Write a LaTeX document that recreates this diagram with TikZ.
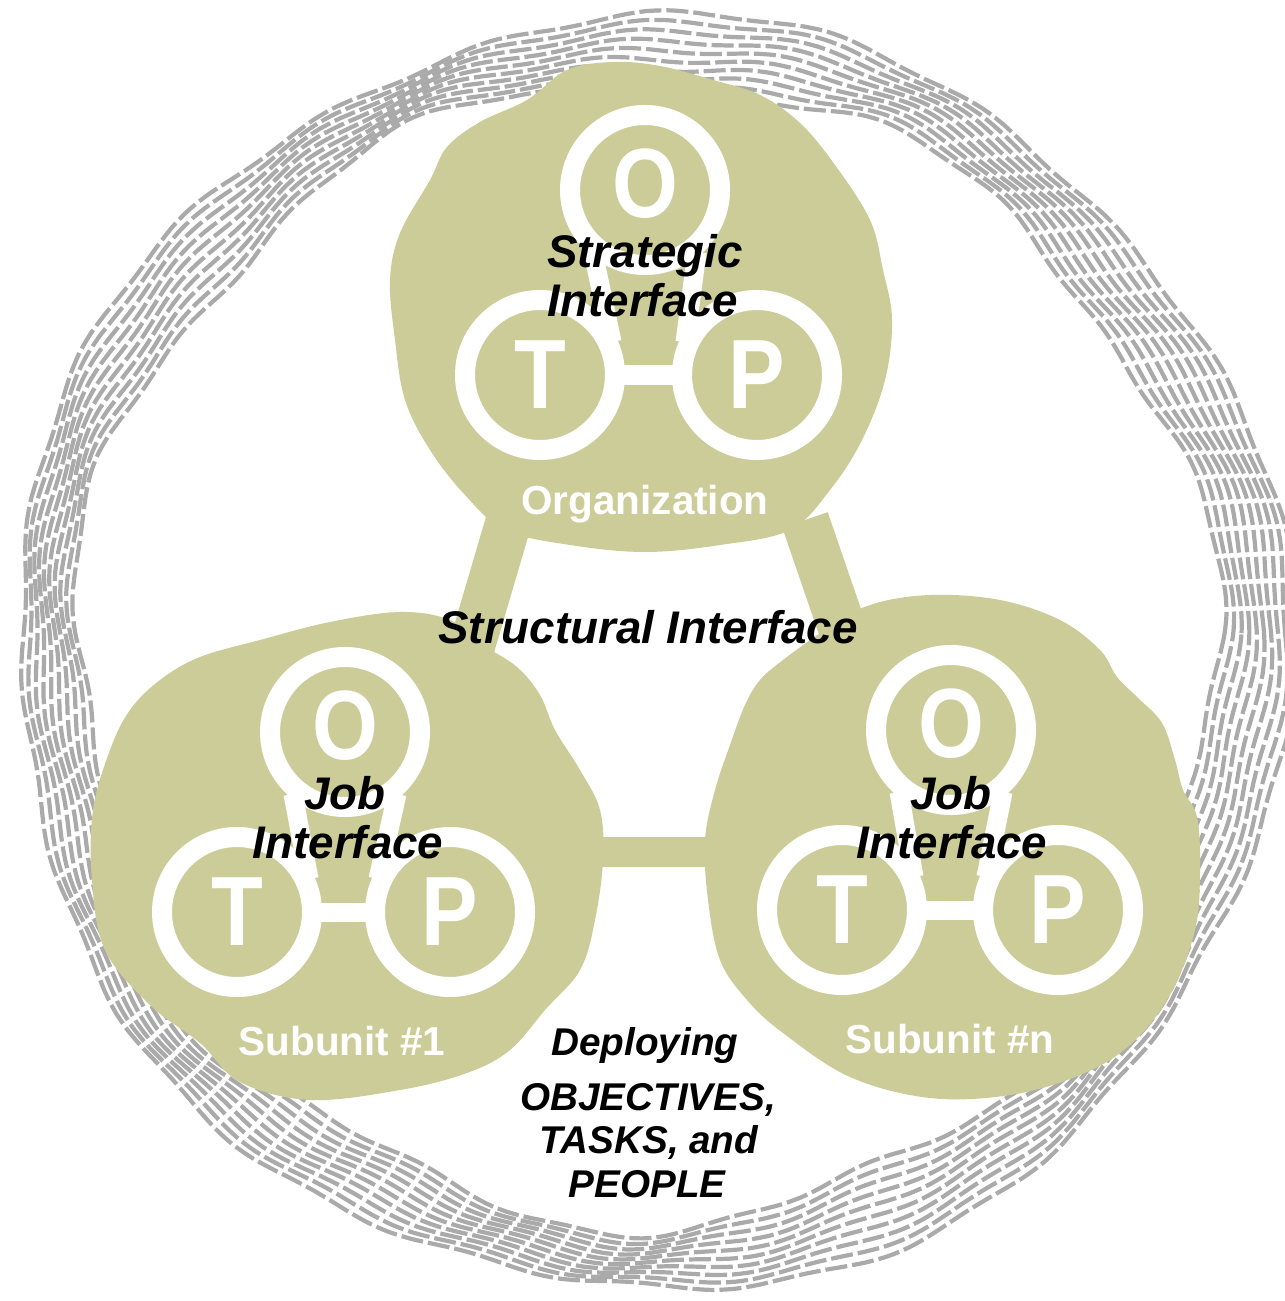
\documentclass[tikz,border=0pt]{standalone}
\usepackage{fontspec}
\newfontfamily\sansb{Liberation Sans}
\definecolor{blobcol}{RGB}{204,204,153}
\definecolor{ringgray}{RGB}{170,170,170}
\tikzset{
  ringline/.style={draw=ringgray, line width=0.042cm, dash pattern=on 0.22cm off 0.05cm},
  blob/.style={fill=blobcol, draw=none},
  band/.style={draw=blobcol},
  ringc/.style={draw=white, line width=0.2cm},
  letter/.style={inner sep=0pt, text=white, font=\sansb\bfseries\fontsize{28}{28}\selectfont},
  link/.style={draw=white, line width=0.19cm},
  lbl/.style={anchor=base, inner sep=0pt, text=black, font=\sansb\bfseries\itshape\fontsize{13}{15}\selectfont},
  dep/.style={anchor=base, inner sep=0pt, text=black, font=\sansb\bfseries\itshape\fontsize{11}{13}\selectfont},
  unit/.style={anchor=base, inner sep=0pt, text=white, font=\sansb\bfseries\fontsize{11.5}{13}\selectfont},
}
\newcommand{\lt}[1]{\scalebox{0.86}[1]{#1}}
\usetikzlibrary{calc}
\begin{document}
\begin{tikzpicture}[x=0.01cm,y=-0.01cm,
  declare function={rr(\a,\s)=570+12*sin(7*\a+20)+\s*(66+8*sin(5*\a+60)-12*sin(7*\a+20)+6*cos(\a))+3*sin(23*\a+200*\s);}]
\useasboundingbox (0,0) rectangle (1284,1301);
\fill[white] (0,0) rectangle (1284,1301);

% outer wavy hatched ring
\foreach \s in {0,0.111,0.222,0.333,0.444,0.556,0.667,0.778,0.889,1}
  \draw[ringline] plot[smooth cycle, domain=0:358, samples=180]
    ({646+rr(\x,\s)*cos(\x)},{654-rr(\x,\s)*sin(\x)});

% bands between blobs
\draw[band, line width=0.46cm] (512,510) -- (462,680);
\draw[band, line width=0.48cm] (805,520) -- (860,680);
\draw[band, line width=0.30cm] (580,852) -- (720,852);

% top blob
\fill[blob] plot[smooth cycle, tension=0.6] coordinates {
 (567,70) (613,62) (660,66) (713,80) (760,95) (800,123) (835,165) (870,220) (883,270)
 (892,320) (885,380) (862,440) (830,490) (790,530) (720,545) (645,552) (570,545)
 (505,530) (465,495) (430,450) (405,400) (395,340) (390,280) (400,233) (430,180)
 (447,147) (480,122) (527,100)};
% left blob
\fill[blob] plot[smooth cycle, tension=0.6] coordinates {
 (160,680) (200,657) (260,640) (330,622) (400,612) (450,620) (483,645) (517,667)
 (540,695) (555,730) (580,770) (600,810) (603,860) (595,920) (580,970) (545,1010)
 (510,1050) (467,1073) (400,1090) (310,1100) (240,1082) (200,1043) (150,1005)
 (105,950) (92,880) (93,810) (110,750) (130,710)};
% right blob
\fill[blob] plot[smooth cycle, tension=0.6] coordinates {
 (783,660) (760,680) (745,705) (730,745) (715,790) (705,840) (708,900) (720,960)
 (747,1000) (783,1033) (850,1077) (930,1098) (1010,1095) (1080,1075) (1130,1045)
 (1170,995) (1195,930) (1200,870) (1197,817) (1183,790) (1175,760) (1162,723)
 (1137,697) (1117,677) (1100,650) (1060,620) (1000,600) (930,595) (870,605) (825,630)};

% ---- groups of O, T, P rings
% top group: Organization
\coordinate (ao) at (645,190);
\coordinate (at) at (540,375);
\coordinate (ap) at (757,375);
% left group: Subunit #1
\coordinate (bo) at (345,732);
\coordinate (bt) at (237,912);
\coordinate (bp) at (450,912);
% right group: Subunit #n
\coordinate (co) at (951,730);
\coordinate (ct) at (842,910);
\coordinate (cp) at (1058,910);

\foreach \g in {a,b,c}{
  \draw[ringc] (\g o) circle (75);
  \draw[ringc] (\g t) circle (75);
  \draw[ringc] (\g p) circle (75);
  \draw[link] ($(\g o)+(-52,62)$) -- ($(\g t)+(72,-33)$);
  \draw[link] ($(\g o)+(52,62)$) -- ($(\g p)+(-72,-33)$);
  \draw[link] ($(\g t)+(80,0)$) -- ($(\g p)+(-80,0)$);
  \node[letter] (\g oL) at ($(\g o)+(0,-6)$) {\lt{O}};
  \node[letter] (\g tL) at (\g t) {\lt{T}};
  \node[letter] (\g pL) at (\g p) {\lt{P}};
}

% labels
\node[lbl] (s1) at (645,268) {Strategic};
\node[lbl] (s2) at (643,317) {Interface};
\node[unit] (org) at (645,515) {Organization};
\node[lbl] (str) at (648,643) {Structural Interface};
\node[lbl] (j1) at (345,809) {Job};
\node[lbl] (j2) at (348,858) {Interface};
\node[lbl] (k1) at (951,809) {Job};
\node[lbl] (k2) at (952,858) {Interface};
\node[unit] (u1) at (342,1055) {Subunit \#1};
\node[unit] (un) at (950,1053) {Subunit \#n};
\node[dep] (d1) at (645,1055) {Deploying};
\node[dep] (d2) at (648,1110) {OBJECTIVES,};
\node[dep] (d3) at (649,1153) {TASKS, and};
\node[dep] (d4) at (647,1197) {PEOPLE};
\end{tikzpicture}
\end{document}
